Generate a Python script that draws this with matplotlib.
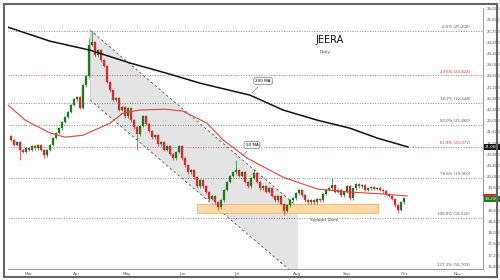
import matplotlib
matplotlib.use("Agg")
import matplotlib.pyplot as plt
from matplotlib.patches import Rectangle, Polygon

# daily closes (one per bar, Mar -> early Oct)
closes = [
    21310, 21130, 21230, 20950, 20880, 21020, 20950, 21090, 21020, 21130,
    20950, 20770, 20950, 21130, 21380, 21560, 21730, 21950, 22130, 22310,
    22560, 22770, 22840, 22450, 23270, 23590, 24700, 24810, 24340, 24520,
    24160, 23950, 23380, 23090, 22740, 22810, 22380, 22490, 22160, 22450,
    22020, 21770, 21520, 21810, 22160, 21880, 21630, 21410, 21480, 21160,
    21230, 20950, 21090, 20810, 20660, 20880, 21090, 20660, 20410, 20160,
    20230, 19980, 19660, 19880, 19660, 19450, 19200, 19310, 19090, 18910,
    19160, 19520, 19810, 20020, 20160, 20230, 20020, 20160, 19810, 19660,
    19950, 20130, 19810, 19590, 19660, 19450, 19590, 19310, 19160, 19310,
    19020, 18770, 18980, 19160, 19230, 19410, 19520, 19340, 19160, 19090,
    19160, 19090, 19200, 19160, 19380, 19520, 19590, 19700, 19450, 19520,
    19340, 19450, 19660, 19230, 19590, 19730, 19660, 19700, 19520, 19590,
    19630, 19560, 19590, 19520, 19480, 19380, 19310, 19200, 18980, 18810,
    19090, 19230,
]
first_open = 21450
wick = 50
long_highs = {26: 24950, 27: 25200, 75: 20590, 81: 20230, 107: 19950}
long_lows = {3: 20590, 11: 20660, 42: 20950, 69: 18810, 91: 18630, 129: 18700}

# moving averages
ma200_x = [-1, 13, 26.3, 39.7, 53, 63, 79.7, 90.7, 102, 113, 122, 132.3]
ma200_y = [25340, 24840, 24520, 24060, 23660, 23340, 22910, 22380, 22020, 21730, 21380, 21060]
ma50_x = [-1, 4.7, 13, 18, 24, 33, 37.3, 43, 51.3, 57.3, 65.3, 70.7, 78.7, 90.7, 102, 113, 124, 132]
ma50_y = [22560, 22020, 21560, 21410, 21480, 21910, 22270, 22380, 22410, 22340, 21910, 21310,
          20660, 19980, 19560, 19450, 19380, 19310]

# fibonacci retracement
fib_hi, fib_lo = 25200, 18520
fib_ratios = [0.0, 23.6, 38.2, 50.0, 61.8, 78.6, 100.0, 127.2]
fib_red = {23.6, 61.8}

# falling channel (bar index, price)
channel_x = [26.33, 95.67]
channel_top = [25240, 18910]
channel_bot = [22740, 16410]

support_x = [62, 122.3]
support_y = [18700, 19020]

months = ["Mar", "Apr", "May", "Jun", "Jul", "Aug", "Sep", "Oct", "Nov"]
month_pos = [5.7, 22, 38.7, 57, 75.3, 95.3, 112, 131, 149]
price_ticks = list(range(16800, 26001, 400))
hidden_ticks = {19200}  # covered by the last-price tag

last_ma200, last_ma50, last_close = 21060, 19310, 19230

GREEN, RED = "#1f7a1f", "#e0262b"

fig = plt.figure(figsize=(5, 2.8), dpi=100)
ax = fig.add_axes([0.016, 0.039, 0.95, 0.932])
ax.set_xlim(-1, 157.3)
ax.set_ylim(16698, 26021)

# channel shading + dashed edges
poly = Polygon([(channel_x[0], channel_top[0]), (channel_x[1], channel_top[1]),
                (channel_x[1], channel_bot[1]), (channel_x[0], channel_bot[0])],
               closed=True, facecolor="#e4e4e4", edgecolor="none", zorder=1)
ax.add_patch(poly)
ax.plot(channel_x, channel_top, ls=(0, (3, 3)), color="#555", lw=0.6, zorder=2)
ax.plot(channel_x, channel_bot, ls=(0, (3, 3)), color="#555", lw=0.6, zorder=2)
ax.plot([channel_x[0]] * 2, [channel_top[0], channel_bot[0]], color="#bbb", lw=0.4, zorder=2)

# support zone
ax.add_patch(Rectangle((support_x[0], support_y[0]), support_x[1] - support_x[0],
                       support_y[1] - support_y[0], facecolor="#fbd9a6",
                       edgecolor="#f0b464", lw=0.6, zorder=2))
ax.text((support_x[0] + support_x[1]) / 2 + 12, support_y[0] - 250, "Support Zone",
        fontsize=3, color="#444", ha="center", va="center", zorder=5)

# fib lines
for r in fib_ratios:
    lvl = fib_hi - r / 100 * (fib_hi - fib_lo)
    col = "#d86a6a" if r in fib_red else "#8a8a8a"
    ax.axhline(lvl, ls=(0, (1, 1.6)), color=col, lw=0.7, zorder=1.5)
    ax.text(153, lvl + 60, f"{r:.1f}% ({lvl:,.0f})", fontsize=2.8,
            color="#c03030" if r in fib_red else "#555", ha="right", va="bottom", zorder=5)

# candles
opens = [first_open] + closes[:-1]
for i, (o, c) in enumerate(zip(opens, closes)):
    col = GREEN if c >= o else RED
    hi = long_highs.get(i, max(o, c) + wick)
    lo = long_lows.get(i, min(o, c) - wick)
    ax.vlines(i, lo, hi, color=col, lw=0.5, zorder=3)
    ax.bar(i, max(abs(c - o), 25), bottom=min(o, c), width=0.7, color=col,
           edgecolor=col, lw=0.2, zorder=4)

ax.plot(ma200_x, ma200_y, color="#111", lw=1.1, zorder=4)
ax.plot(ma50_x, ma50_y, color="#d9453c", lw=0.8, zorder=4)

box = dict(boxstyle="round,pad=0.35", fc="white", ec="#777", lw=0.5)
ax.annotate("200 MA", xy=(79.7, 22910), xytext=(84, 23413), fontsize=3, ha="center",
            va="center", bbox=box, zorder=6,
            arrowprops=dict(arrowstyle="-", color="#777", lw=0.5))
ax.annotate("50 MA", xy=(77, 20700), xytext=(80.3, 21127), fontsize=3, ha="center",
            va="center", bbox=box, zorder=6,
            arrowprops=dict(arrowstyle="-", color="#777", lw=0.5))

ax.text(106.3, 24880, "JEERA", fontsize=7, ha="center", va="center", color="#111")
ax.text(104.7, 24450, "Daily", fontsize=3.2, ha="center", va="center", color="#444")

# axes styling
for s in ["top", "left"]:
    ax.spines[s].set_visible(False)
for s in ["bottom", "right"]:
    ax.spines[s].set_color("#888")
    ax.spines[s].set_linewidth(0.6)
ax.yaxis.tick_right()
ax.set_yticks(price_ticks)
ax.set_yticklabels(["" if v in hidden_ticks else f"{v:,}" for v in price_ticks])
ax.tick_params(axis="y", length=0, labelsize=2.8, labelcolor="#555", pad=3)
ax.set_xticks(month_pos)
ax.set_xticklabels(months)
ax.tick_params(axis="x", length=0, labelsize=3, labelcolor="#555", pad=2)

# last-value tags on the price axis
ytr = ax.get_yaxis_transform()
tag = dict(fontsize=2.8, color="white", ha="left", va="center", zorder=7,
           transform=ytr, clip_on=False)
ax.text(1.004, last_ma200, f"{last_ma200:,}",
        bbox=dict(boxstyle="square,pad=0.3", fc="#111", ec="none"), **tag)
ax.add_patch(Rectangle((1.0, last_close + 90), 0.032, 60, transform=ytr,
                       fc=RED, ec="none", clip_on=False, zorder=6))
ax.text(1.004, last_close - 40, f"{last_close:,}",
        bbox=dict(boxstyle="square,pad=0.3", fc=GREEN, ec="none"), **tag)

# outer frame
fig.patches.append(Rectangle((0.008, 0.012), 0.986, 0.975, transform=fig.transFigure,
                             fill=False, ec="#666", lw=1.5))

fig.savefig("out.png", dpi=100)
